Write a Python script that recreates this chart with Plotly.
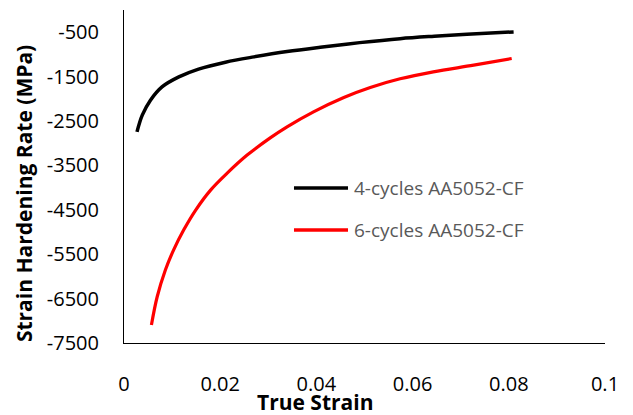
import plotly.graph_objects as go

# True strain vs. strain hardening rate for the two processing routes
series_names = ["4-cycles AA5052-CF", "6-cycles AA5052-CF"]

strain_4c = [0.0027, 0.0038, 0.0055, 0.0079, 0.0114, 0.0155, 0.0211, 0.0270,
             0.0339, 0.0408, 0.0490, 0.0574, 0.0645, 0.0713, 0.0810]
rate_4c = [-2744, -2368, -2031, -1731, -1506, -1330, -1175, -1056,
           -935, -838, -735, -645, -590, -545, -493]

strain_6c = [0.0057, 0.0069, 0.0086, 0.0103, 0.0124, 0.0149, 0.0180, 0.0214,
             0.0256, 0.0304, 0.0339, 0.0394, 0.0457, 0.0512, 0.0574, 0.0643,
             0.0727, 0.0806]
rate_6c = [-7095, -6458, -5857, -5407, -4957, -4506, -4056, -3680,
           -3268, -2880, -2631, -2293, -1970, -1745, -1550, -1393,
           -1243, -1092]

x_ticks = [0, 0.02, 0.04, 0.06, 0.08, 0.1]
x_tick_text = ["0", "0.02", "0.04", "0.06", "0.08", "0.1"]
y_ticks = [-7500, -6500, -5500, -4500, -3500, -2500, -1500, -500]
y_tick_text = ["-7500", "-6500", "-5500", "-4500", "-3500", "-2500",
               "-1500", "-500"]

colors = ["#000000", "#ff0000"]
widths = [3.5, 3.2]

FONT = "Open Sans"

fig = go.Figure()
for name, xs, ys, c, w in zip(series_names, [strain_4c, strain_6c],
                              [rate_4c, rate_6c], colors, widths):
    fig.add_trace(go.Scatter(x=xs, y=ys, mode="lines", name=name,
                             line=dict(color=c, width=w, shape="spline",
                                       smoothing=1.0),
                             showlegend=False))

# Legend drawn as line samples plus labels inside the plot area
legend_y = [0.4655, 0.3393]
shapes = []
annotations = []
for name, c, ly in zip(series_names, colors, legend_y):
    shapes.append(dict(type="line", xref="paper", yref="paper",
                       x0=0.3534, x1=0.4657, y0=ly, y1=ly,
                       line=dict(color=c, width=3.5)))
    annotations.append(dict(text=name, xref="paper", yref="paper",
                            x=0.474, y=ly, xanchor="left", yanchor="middle",
                            showarrow=False,
                            font=dict(family=FONT, size=19, color="#595959")))

annotations.append(dict(text="<b>True Strain</b>", xref="paper", yref="paper",
                        x=0.397, y=-0.177, xanchor="center", yanchor="middle",
                        showarrow=False,
                        font=dict(family=FONT, size=21, color="#000000")))
annotations.append(dict(text="<b>Strain Hardening Rate (MPa)</b>",
                        xref="paper", yref="paper", x=-0.208, y=0.45,
                        xanchor="center", yanchor="middle", textangle=-90,
                        showarrow=False,
                        font=dict(family=FONT, size=21, color="#000000")))

fig.update_layout(
    width=633, height=415,
    margin=dict(l=124, r=28, t=10, b=72),
    paper_bgcolor="white", plot_bgcolor="white",
    shapes=shapes, annotations=annotations,
    font=dict(family=FONT, size=18, color="#000000"),
)
fig.update_xaxes(range=[0, 0.1], tickvals=x_ticks, ticktext=x_tick_text,
                 showgrid=False, zeroline=False, showline=True,
                 linecolor="#000000", linewidth=1, ticks="",
                 ticklabelstandoff=23,
                 tickfont=dict(family=FONT, size=20, color="#000000"))
fig.update_yaxes(range=[-7500, 0], tickvals=y_ticks, ticktext=y_tick_text,
                 showgrid=False, zeroline=False, showline=True,
                 linecolor="#000000", linewidth=1, ticks="",
                 ticklabelstandoff=20,
                 tickfont=dict(family=FONT, size=20, color="#000000"))

fig.write_html("out.html")
